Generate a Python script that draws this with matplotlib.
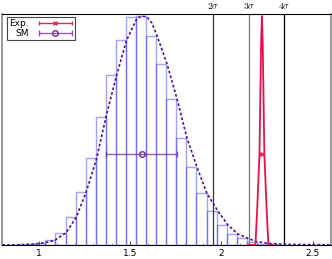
import numpy as np
import matplotlib
matplotlib.use("Agg")
import matplotlib.pyplot as plt
from matplotlib.container import ErrorbarContainer
from matplotlib.legend_handler import HandlerErrorbar

# ---------------------------------------------------------------------------
# Data
# ---------------------------------------------------------------------------

# histogram of SM predictions (left edge of first bin, common width, heights)
bin_start = 0.872
bin_width = 0.0551
bin_heights = [0.5, 1.0, 2.3, 5.0, 12.3, 27.7, 52.7, 86.7, 128.3, 169.7, 205.0,
               227.7, 229.0, 209.0, 181.0, 145.7, 107.0, 77.7, 51.7, 34.0, 20.0,
               11.0, 6.7, 3.3, 1.5, 0.7]

# smooth SM density
sm_curve_x = [0.802, 0.900, 0.982, 1.037, 1.091, 1.151, 1.206, 1.260, 1.318,
              1.369, 1.427, 1.482, 1.537, 1.564, 1.593, 1.620, 1.649, 1.703,
              1.758, 1.812, 1.867, 1.921, 1.981, 2.036, 2.091, 2.145, 2.194,
              2.263, 2.372, 2.595]
sm_curve_y = [0.1, 0.3, 1.0, 2.3, 5.0, 12.3, 27.7, 52.7, 86.7, 128.3, 169.7,
              205.0, 226.0, 229.0, 228.0, 222.0, 209.0, 181.0, 145.7, 107.0,
              77.7, 51.7, 34.0, 20.0, 11.0, 6.7, 3.3, 1.5, 0.6, 0.2]

# experimental peak (narrow spike)
exp_curve_x = [2.150, 2.1866, 2.196, 2.2086, 2.2122, 2.2176, 2.222,
               2.2264, 2.2318, 2.2354, 2.248, 2.2574, 2.290]
exp_curve_y = [0.0, 0.0, 35.0, 91.0, 135.0, 202.0, 229.0,
               202.0, 135.0, 91.0, 35.0, 0.0, 0.0]

# points with uncertainties
exp_val, exp_err = 2.222, 0.010
sm_val, sm_err = 1.564, 0.195
point_height = 91.0

# significance lines
sigma_pos = [1.954, 2.151, 2.345]
sigma_labels = [r"$2\sigma$", r"$3\sigma$", r"$4\sigma$"]
sigma_colors = ["#333333", "#777777", "#000000"]

xticks = [1, 1.5, 2, 2.5]
xticklabels = ["1", "1.5", "2", "2.5"]

# ---------------------------------------------------------------------------
# Plot
# ---------------------------------------------------------------------------

plt.rcParams["mathtext.fontset"] = "cm"

fig = plt.figure(figsize=(3.32, 2.59), dpi=100)
ax = fig.add_axes([0.006, 0.054, 0.991, 0.892])

lefts = bin_start + bin_width * np.arange(len(bin_heights))
ax.bar(lefts, bin_heights, width=bin_width, align="edge", fill=False,
       edgecolor=(0.2, 0.2, 1.0, 0.45), linewidth=1.0)

ax.plot(sm_curve_x, sm_curve_y, color="#4b0f96", lw=1.2,
        linestyle=(0, (1.6, 1.3)), zorder=3)

ax.plot(exp_curve_x, exp_curve_y, color="#e8104a", lw=1.3, zorder=4)

for pos, lab, col in zip(sigma_pos, sigma_labels, sigma_colors):
    ax.axvline(pos, color=col, lw=0.9, zorder=2)
    ax.text(pos, 1.015, lab, transform=ax.get_xaxis_transform(),
            ha="center", va="bottom", fontsize=7)

ax.errorbar([exp_val], [point_height], xerr=[exp_err], fmt="x",
            color="#e0285a", ms=3.5, mew=1.0, capsize=1.5, lw=1.0,
            label="Exp.", zorder=5)
ax.errorbar([sm_val], [point_height], xerr=[sm_err], fmt="o", mfc="none",
            color="#6a2a9c", ms=4, mew=1.0, capsize=2, lw=1.0,
            ecolor=(0.42, 0.16, 0.6, 0.75), label="SM", zorder=5)

ax.set_xlim(0.8, 2.6)
ax.set_ylim(0, 231)
ax.set_yticks([])
ax.set_xticks(xticks)
ax.set_xticklabels(xticklabels, fontsize=6.5)
ax.set_xticks(np.arange(0.9, 2.6, 0.1), minor=True)
ax.tick_params(axis="x", which="major", direction="in", length=3,
               color="#555555", pad=3)
ax.tick_params(axis="x", which="minor", direction="in", length=1.5,
               color="#888888")

ax.spines["left"].set_color("#888888")
ax.spines["right"].set_color("#888888")
ax.spines["left"].set_linewidth(1.2)
ax.spines["right"].set_linewidth(1.2)

leg = ax.legend(loc="upper left", fontsize=6.5, markerfirst=False,
                fancybox=False, framealpha=1, edgecolor="#444444",
                handlelength=3.8, borderpad=0.25, labelspacing=0.12,
                handletextpad=1.0, borderaxespad=0,
                bbox_to_anchor=(0.016, 0.988),
                handler_map={ErrorbarContainer: HandlerErrorbar(xerr_size=1.8)})
leg.get_frame().set_linewidth(0.8)

fig.savefig("out.png", dpi=100)
